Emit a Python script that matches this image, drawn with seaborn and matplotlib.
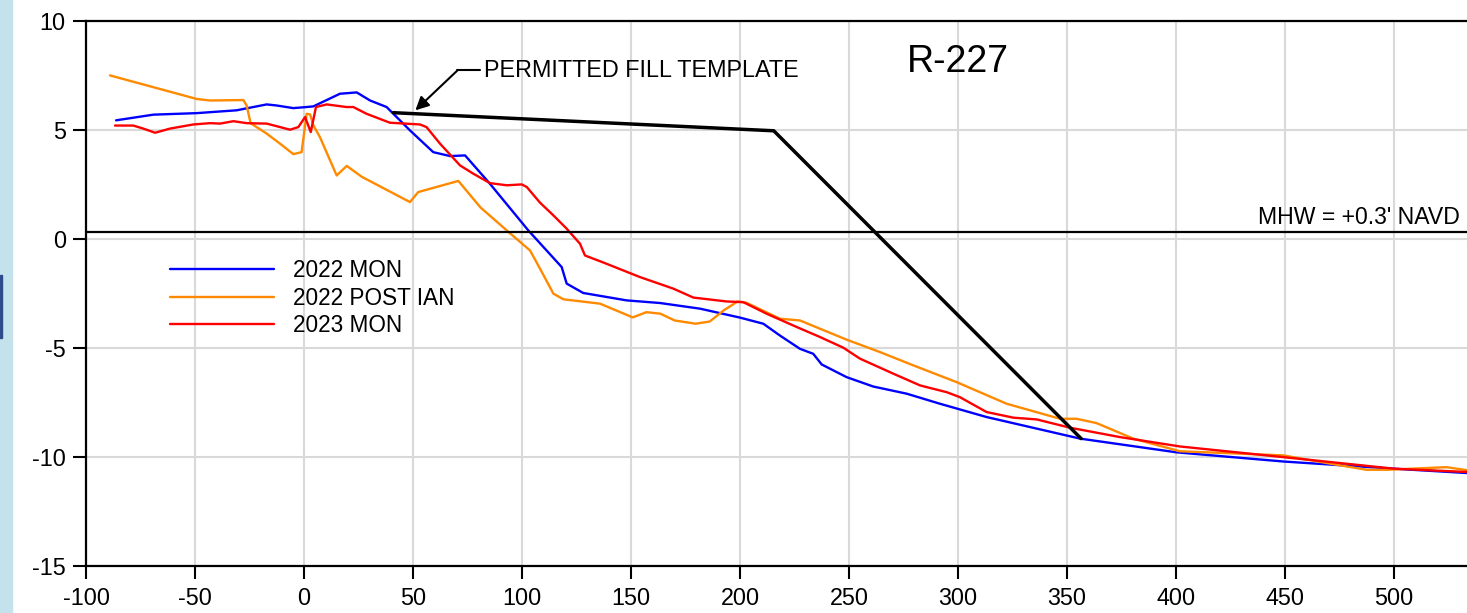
import matplotlib
matplotlib.use("Agg")
import matplotlib.pyplot as plt
from matplotlib.patches import Rectangle
import seaborn as sns
import pandas as pd

# Profile data (station ft, elevation ft NAVD)
mon22_x = [-86.2, -69.1, -49.2, -30.9, -17.1, -12.5, -4.9, 1.2, 4.3, 16.5, 24.2, 30.3, 37.9,
           48.6, 59.3, 67.0, 73.9, 85.3, 102.9, 118.2, 120.5, 128.1, 148.0, 163.3, 181.7,
           200.0, 210.7, 218.3, 227.5, 233.6, 237.5, 248.9, 261.1, 276.5, 291.7, 313.1,
           356.0, 400.3, 449.2, 500.0, 533.5]
mon22_y = [5.43, 5.69, 5.76, 5.89, 6.16, 6.11, 5.99, 6.04, 6.07, 6.65, 6.71, 6.34, 6.04,
           4.97, 3.97, 3.79, 3.82, 2.52, 0.38, -1.30, -2.06, -2.49, -2.83, -2.95, -3.21,
           -3.62, -3.90, -4.44, -5.05, -5.28, -5.77, -6.35, -6.78, -7.11, -7.57, -8.18,
           -9.17, -9.80, -10.22, -10.55, -10.75]

ian22_x = [-89.0, -69.1, -49.2, -43.1, -27.8, -26.3, -24.5, -17.1, -11.0, -4.9, -1.1, 1.2,
           2.8, 4.3, 7.3, 15.0, 19.6, 26.5, 48.6, 52.4, 70.8, 81.0, 93.0, 103.7, 108.3,
           114.4, 119.0, 135.8, 150.8, 157.1, 163.5, 170.0, 179.6, 186.1, 192.5, 198.9,
           203.0, 218.3, 227.5, 236.7, 248.9, 264.2, 279.5, 299.4, 322.3, 346.8, 354.4,
           363.6, 380.4, 401.8, 449.2, 469.1, 487.4, 496.6, 524.1, 533.5]
ian22_y = [7.49, 6.95, 6.41, 6.34, 6.36, 6.11, 5.30, 4.82, 4.36, 3.88, 3.97, 5.73,
           5.70, 5.20, 4.66, 2.90, 3.34, 2.84, 1.68, 2.14, 2.65, 1.43, 0.38, -0.54, -1.38,
           -2.52, -2.78, -2.98, -3.61, -3.37, -3.44, -3.75, -3.90, -3.80, -3.29, -2.88,
           -2.94, -3.67, -3.75, -4.13, -4.63, -5.20, -5.81, -6.58, -7.57, -8.26, -8.26,
           -8.46, -9.17, -9.75, -9.94, -10.29, -10.60, -10.60, -10.48, -10.62]

mon23_x = [-86.7, -78.3, -73.7, -68.3, -61.5, -50.8, -43.1, -38.5, -32.4, -26.3, -17.1,
           -6.4, -2.6, 0.5, 3.1, 5.5, 10.4, 19.5, 22.6, 28.7, 39.4, 53.2, 56.2, 62.4, 71.6,
           77.7, 85.3, 93.0, 99.9, 102.2, 108.3, 114.4, 120.5, 126.6, 128.9, 138.8, 154.1,
           169.4, 178.6, 193.9, 201.5, 212.2, 226.0, 236.7, 247.4, 255.0, 270.3, 282.6,
           294.8, 300.9, 313.1, 325.4, 336.1, 351.4, 374.3, 401.8, 449.2, 500.0, 533.5]
mon23_y = [5.19, 5.19, 5.05, 4.86, 5.05, 5.24, 5.30, 5.28, 5.39, 5.30, 5.28,
           5.00, 5.12, 5.58, 4.89, 6.04, 6.16, 6.04, 6.04, 5.73, 5.32, 5.24, 5.12, 4.36, 3.36,
           2.98, 2.55, 2.45, 2.49, 2.37, 1.65, 1.07, 0.46, -0.23, -0.77, -1.15, -1.76,
           -2.29, -2.70, -2.88, -2.91, -3.44, -4.05, -4.51, -5.00, -5.50, -6.19, -6.73,
           -7.04, -7.27, -7.95, -8.21, -8.29, -8.67, -9.10, -9.53, -10.02, -10.55, -10.70]

template_x = [41.0, 215.5, 356.5]
template_y = [5.78, 4.95, -9.17]

series_names = ["2022 MON", "2022 POST IAN", "2023 MON"]
series_colors = ["#0000ff", "#ff8a00", "#ff0000"]
mhw = 0.3

xticks = list(range(-100, 501, 50))
yticks = list(range(-15, 11, 5))

df = pd.concat([
    pd.DataFrame({"station": mon22_x, "elev": mon22_y, "survey": series_names[0]}),
    pd.DataFrame({"station": ian22_x, "elev": ian22_y, "survey": series_names[1]}),
    pd.DataFrame({"station": mon23_x, "elev": mon23_y, "survey": series_names[2]}),
])

sns.set_style("ticks")
plt.rcParams["font.family"] = ["Liberation Sans", "DejaVu Sans"]
plt.rcParams["axes.unicode_minus"] = False
plt.rcParams["text.color"] = "black"

fig = plt.figure(figsize=(14.67, 6.13), dpi=100)
fig.patches.append(Rectangle((0, 0), 12 / 1467, 1, transform=fig.transFigure,
                             color="#c3e2ec", zorder=-1))
fig.patches.append(Rectangle((0, 1 - 338 / 613), 1.5 / 1467, 63 / 613,
                             transform=fig.transFigure, color="#2c4a8c", zorder=-1))

ax = fig.add_axes([86 / 1467, 47.3 / 613, 1381 / 1467, 545 / 613])

sns.lineplot(data=df, x="station", y="elev", hue="survey", hue_order=series_names,
             palette=series_colors, estimator=None, sort=False, lw=1.7, ax=ax)

ax.plot(template_x, template_y, color="black", lw=2.5, zorder=4)
ax.axhline(mhw, color="black", lw=1.6, zorder=3)

ax.set_xlim(-100, 533.5)
ax.set_ylim(-15, 10)
ax.set_xticks(xticks)
ax.set_yticks(yticks)
ax.set_xlabel("")
ax.set_ylabel("")
ax.grid(True, color="#d9d9d9", lw=1.5)
ax.set_axisbelow(True)
for side in ["left", "top", "bottom"]:
    ax.spines[side].set_color("black")
    ax.spines[side].set_linewidth(1.6)
ax.spines["right"].set_visible(False)
ax.tick_params(axis="both", direction="out", length=9.5, width=1.5, colors="black",
               labelsize=16.8, labelcolor="black")
ax.tick_params(axis="y", pad=5)
ax.tick_params(axis="x", pad=6)

handles, labels = ax.get_legend_handles_labels()
leg = ax.legend(handles, labels, loc="upper left", bbox_to_anchor=(0.0608, 0.562),
                frameon=False, fontsize=16.3, handlelength=4.6, handletextpad=0.85,
                labelspacing=0.19, borderpad=0, borderaxespad=0)
for t in leg.get_texts():
    t.set_color("black")

# annotations
ax.text(82.7, 7.72, "PERMITTED FILL TEMPLATE", fontsize=16.8, va="center", ha="left",
        color="black")
ax.plot([80.9, 70.4], [7.72, 7.72], color="black", lw=1.5)
ax.annotate("", xy=(51.1, 5.89), xytext=(70.4, 7.72),
            arrowprops=dict(arrowstyle="-|>", color="black", lw=1.5,
                            mutation_scale=20, shrinkA=0, shrinkB=0))
ax.text(276.6, 8.11, "R-227", fontsize=27, va="center", ha="left", color="black")
ax.text(530.3, mhw + 0.15, "MHW = +0.3' NAVD", fontsize=16.6, ha="right", va="bottom",
        color="black")

fig.savefig("out.png", dpi=100)
